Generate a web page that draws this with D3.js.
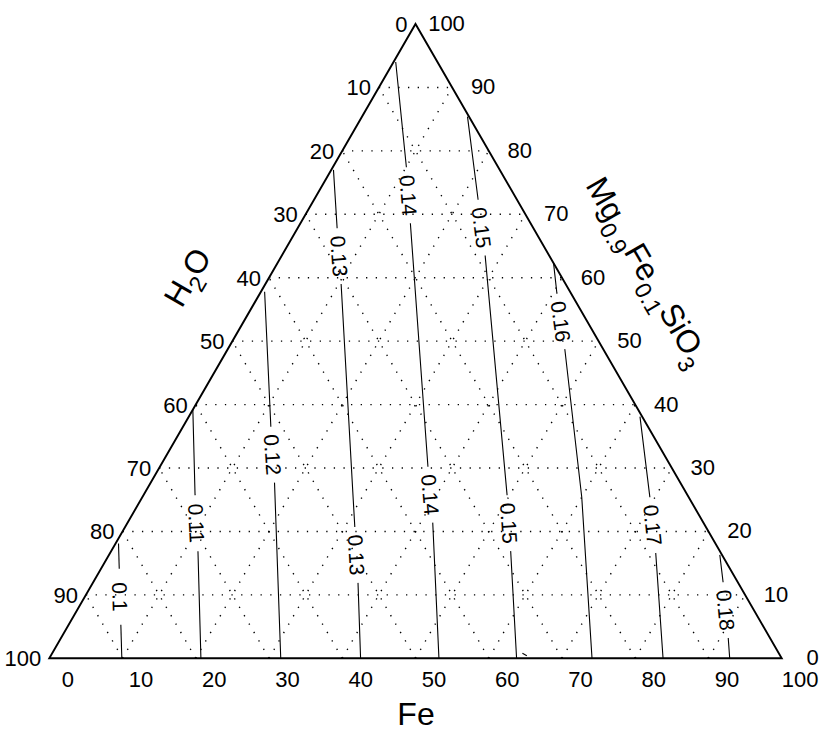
<!DOCTYPE html>
<html><head><meta charset="utf-8">
<script src="https://cdn.jsdelivr.net/npm/d3@7"></script>
<style>
body{margin:0;background:#fff}
svg{display:block}
text{font-family:"Liberation Sans",Arial,Helvetica,sans-serif;fill:#000}
</style>
</head><body>
<svg id="chart" width="830" height="737"></svg>
<script>
// ---------- data ----------
const gridLevels = [10,20,30,40,50,60,70,80,90];
const tickValues = [0,10,20,30,40,50,60,70,80,90,100];
const contourLevels = [0.10,0.11,0.12,0.13,0.14,0.15,0.16,0.17,0.18];
const contourText = ["0.1","0.11","0.12","0.13","0.14","0.15","0.16","0.17","0.18"];
// contour polylines as [Fe %, Mg0.9Fe0.1SiO3 %] (H2O = 100 - Fe - MgSiO3)
const c010 = [[0.4,18.1],[9.9,0]];
const c011 = [[0.0,39.2],[7.0,25.8],[11.9,16.8],[20.7,0]];
const c012 = [[0.5,57.8],[12.0,36.5],[16.9,27.7],[31.6,0]];
const c013 = [[0.3,77.0],[5.4,67.8],[10.4,58.9],[29.0,25.0],[36.2,11.9],[42.5,0]];
const c014 = [[0.3,94.0],[10.0,77.5],[15.0,68.6],[36.6,30.2],[41.6,21.5],[53.2,0]];
const c015 = [[14.4,85.4],[22.4,72.3],[27.7,63.6],[49.6,25.8],[54.6,16.8],[63.8,0]];
const c016 = [[37.7,62.3],[40.5,57.6],[46.1,48.6],[60.0,25.4],[74.1,0]];
const c017 = [[61.6,38.1],[69.3,25.4],[74.5,16.6],[83.8,0]];
const c018 = [[83.4,16.3],[86.0,12.0],[91.1,3.2],[92.9,0]];
const contourLines = [c010,c011,c012,c013,c014,c015,c016,c017,c018];
// small stray contour fragment near the bottom edge
const contourFragment = [[64.2,0.8],[65.0,0.4]];
// MgSiO3 level (%) at which each contour carries its inline label
const labelLevels = [[9.7],[21.3],[32.1],[63.4,16.3],[73.0,25.8],[67.9,21.3],[53.1],[21.0],[7.6]];

// ---------- layout ----------
const svg = d3.select("#chart");
const xBase = d3.scaleLinear().domain([0,100]).range([49.3,781.7]);
const yMg = d3.scaleLinear().domain([0,100]).range([658.3,24]);
const pt = (fe,mg) => [xBase(fe + mg/2), yMg(mg)];

const defs = svg.append("defs");

// ---------- grid ----------
const grid = svg.append("g").attr("fill","none").attr("stroke","#000")
  .attr("stroke-width",1.4).attr("stroke-dasharray","1.3,8.4");
const line = d3.line();
gridLevels.forEach(g=>{
  grid.append("path").attr("d", line([pt(0,g), pt(100-g,g)]));      // const MgSiO3
  grid.append("path").attr("d", line([pt(g,0), pt(g,100-g)]));      // const Fe
  grid.append("path").attr("d", line([pt(100-g,0), pt(0,100-g)]));  // const H2O
});

// ---------- contours ----------
function labelAt(poly, mg){
  for(let i=0;i<poly.length-1;i++){
    const a=poly[i], b=poly[i+1];
    if((a[1]-mg)*(b[1]-mg)<=0){
      const t=(a[1]-mg)/(a[1]-b[1]);
      const fe=a[0]+t*(b[0]-a[0]);
      const pa=pt(a[0],a[1]), pb=pt(b[0],b[1]);
      const ang=Math.atan2(pb[1]-pa[1], pb[0]-pa[0])*180/Math.PI;
      const p=pt(fe,mg);
      return {x:p[0], y:p[1], ang};
    }
  }
  return null;
}
const labels=[];
contourLines.forEach((poly,i)=>{
  labelLevels[i].forEach(mg=>{
    const l=labelAt(poly,mg);
    if(l) labels.push({...l, text:contourText[i]});
  });
});
const mask = defs.append("mask").attr("id","gapmask")
  .attr("maskUnits","userSpaceOnUse").attr("x",0).attr("y",0).attr("width",830).attr("height",737);
mask.append("rect").attr("width",830).attr("height",737).attr("fill","#fff");
labels.forEach(l=>{
  mask.append("rect").attr("x",-28).attr("y",-10).attr("width",56).attr("height",20)
    .attr("fill","#000").attr("transform",`translate(${l.x},${l.y}) rotate(${l.ang})`);
});
const cg = svg.append("g").attr("mask","url(#gapmask)").attr("fill","none")
  .attr("stroke","#000").attr("stroke-width",1.1);
contourLines.concat([contourFragment]).forEach(poly=>{
  cg.append("path").attr("d", line(poly.map(d=>pt(d[0],d[1]))));
});
svg.append("g").selectAll("text").data(labels).join("text")
  .attr("transform",d=>`translate(${d.x},${d.y}) rotate(${d.ang})`)
  .attr("text-anchor","middle").attr("dy","0.36em")
  .attr("font-size",21).text(d=>d.text);

// ---------- frame ----------
svg.append("path").attr("d", line([pt(0,0),pt(100,0),pt(0,100)]) + "Z")
  .attr("fill","none").attr("stroke","#000").attr("stroke-width",1.9).attr("stroke-linejoin","miter");

// ---------- tick labels ----------
const tk = svg.append("g").attr("font-size",22);
tickValues.forEach(v=>{
  // left axis: H2O (0 at top, 100 bottom-left)
  let p = pt(0,100-v);
  tk.append("text").attr("x",p[0]-8).attr("y",p[1]).attr("dy","0.36em")
    .attr("text-anchor","end").text(v);
  // right axis: MgSiO3 (100 at top, 0 at bottom-right)
  p = pt(100-v,v);
  tk.append("text").attr("x",p[0]+31).attr("y",p[1]-1).attr("dy","0.36em")
    .attr("text-anchor","middle").text(v);
  // bottom axis: Fe
  p = pt(v,0);
  tk.append("text").attr("x",p[0]+18.5).attr("y",p[1]+29)
    .attr("text-anchor","middle").text(v);
});

// ---------- axis titles ----------
svg.append("text").attr("x",416).attr("y",725).attr("text-anchor","middle")
  .attr("font-size",32).text("Fe");

const tl = svg.append("text").attr("text-anchor","middle").attr("font-size",32)
  .attr("transform","translate(187,277) rotate(-60)").attr("dy","0.36em");
tl.append("tspan").text("H");
tl.append("tspan").attr("font-size",23).attr("dy",9).text("2");
tl.append("tspan").attr("dy",-9).text("O");

const tr = svg.append("text").attr("text-anchor","middle").attr("font-size",32)
  .attr("transform","translate(638,277) rotate(60)");
const parts = [["Mg",false],["0.9",true],["Fe",false],["0.1",true],["SiO",false],["3",true]];
let sub=false;
parts.forEach(([s,isSub])=>{
  const ts = tr.append("tspan").text(s);
  if(isSub && !sub){ ts.attr("font-size",23).attr("dy",10); sub=true; }
  else if(!isSub && sub){ ts.attr("dy",-10); sub=false; }
  else if(isSub) ts.attr("font-size",23);
});
</script>
</body></html>
